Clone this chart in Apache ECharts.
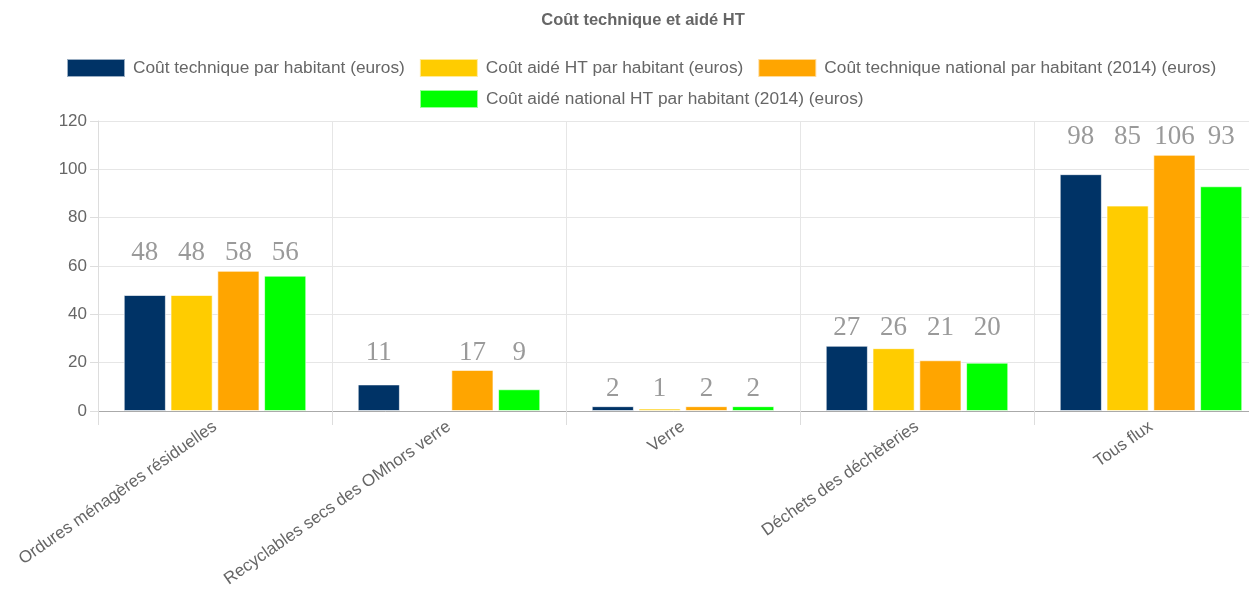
<!DOCTYPE html>
<html><head><meta charset="utf-8">
<script src="https://cdn.jsdelivr.net/npm/echarts@6/dist/echarts.min.js"></script>
<style>html,body{margin:0;padding:0;background:#fff}#c{width:1249px;height:590px}</style>
</head><body><div id="c"></div>
<script>
const titleText = "Coût technique et aidé HT";
const categories = ["Ordures ménagères résiduelles", "Recyclables secs des OMhors verre", "Verre", "Déchets des déchèteries", "Tous flux"];
const seriesNames = ["Coût technique par habitant (euros)", "Coût aidé HT par habitant (euros)", "Coût technique national par habitant (2014) (euros)", "Coût aidé national HT par habitant (2014) (euros)"];
const coutTechnique = [48, 11, 2, 27, 98];
const coutAide = [48, null, 1, 26, 85];
const coutTechniqueNational = [58, 17, 2, 21, 106];
const coutAideNational = [56, 9, 2, 20, 93];
const colors = ["#003366", "#FFCC00", "#FFA500", "#00FF00"];
const yTicks = { min: 0, max: 120, interval: 20 };

const allData = [coutTechnique, coutAide, coutTechniqueNational, coutAideNational];
const groupMax = categories.map((c, i) => Math.max(...allData.map(d => d[i] == null ? 0 : d[i])));

const chart = echarts.init(document.getElementById('c'));
const font = "Liberation Sans, Arial, sans-serif";
function buildSeries(offsets) {
  return allData.map((d, si) => ({
    name: seriesNames[si],
    type: 'bar',
    barGap: '11%',
    barCategoryGap: '22%',
    itemStyle: { color: colors[si], borderColor: 'rgba(255,255,255,0.6)', borderWidth: 1 },
    data: d.map((v, i) => ({
      value: v,
      label: { offset: [0, offsets ? offsets[si][i] : 0] }
    })),
    label: {
      show: true, position: 'top', distance: 4,
      fontFamily: "Liberation Serif, Times New Roman, serif", fontSize: 27, color: '#9a9a9a'
    }
  }));
}
const legendCommon = { itemWidth: 58, itemHeight: 18, itemGap: 14, padding: 0, icon: 'rect',
  textStyle: { fontFamily: font, fontSize: 17.3, color: '#666', padding: [0, 0, 0, 3] } };
const option = {
  animation: false,
  color: colors,
  title: { text: titleText, left: 643, textAlign: 'center', top: 12, padding: 0,
    textStyle: { fontFamily: font, fontSize: 16.5, fontWeight: 'bold', color: '#666' } },
  legend: [
    Object.assign({ data: seriesNames.slice(0, 3), left: 66, top: 58 }, legendCommon),
    Object.assign({ data: seriesNames.slice(3), left: 419, top: 89 }, legendCommon)
  ],
  grid: { left: 98, right: -19, top: 121, bottom: 179, containLabel: false, outerBoundsMode: 'none' },
  xAxis: {
    type: 'category', data: categories,
    axisLine: { lineStyle: { color: '#aaa' } },
    axisTick: { show: true, length: 14, lineStyle: { color: '#ddd' } },
    splitLine: { show: true, lineStyle: { color: '#e6e6e6' } },
    axisLabel: { interval: 0, rotate: 35, margin: 14, fontFamily: font, fontSize: 17, color: '#666' }
  },
  yAxis: {
    type: 'value', min: yTicks.min, max: yTicks.max, interval: yTicks.interval,
    axisLine: { show: true, lineStyle: { color: '#ddd' } },
    axisTick: { show: true, length: 8, lineStyle: { color: '#ddd' } },
    splitLine: { lineStyle: { color: '#e6e6e6' } },
    axisLabel: { margin: 11, fontFamily: font, fontSize: 17, color: '#666' }
  },
  series: buildSeries(null)
};
chart.setOption(option);
const offsets = allData.map(d => d.map((v, i) => {
  if (v == null) return 0;
  return chart.convertToPixel({ yAxisIndex: 0 }, groupMax[i]) - chart.convertToPixel({ yAxisIndex: 0 }, v);
}));
chart.setOption({ series: buildSeries(offsets) });
</script></body></html>
